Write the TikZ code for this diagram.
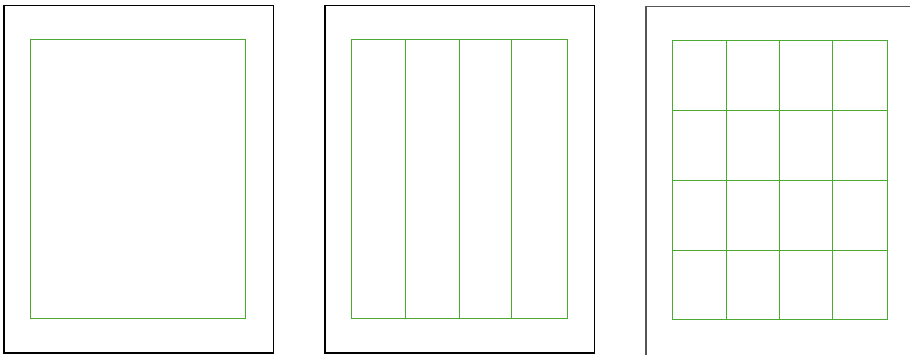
\documentclass[tikz,border=0pt]{standalone}
\begin{document}
\begin{tikzpicture}[x=1pt,y=-1pt,
  page/.style={draw=black,line width=1.1pt},
  gridline/.style={draw={rgb,255:red,76;green,168;blue,48},line width=1pt}]
\useasboundingbox (0,0) rectangle (910,354);
\clip (0,0) rectangle (910,354);
% page 1
\draw[page] (4,5.5) rectangle (273.5,353);
\draw[gridline] (30,39) rectangle (245.5,318);
% page 2
\draw[page] (325,5.5) rectangle (594.5,353);
\draw[gridline] (351,39) rectangle (567,318);
\foreach \x in {405,459,511} \draw[gridline] (\x,39) -- (\x,318);
% page 3 (cut off)
\draw[page,draw={rgb,255:red,85;green,85;blue,85}] (646,370) -- (646,6.5) -- (930,6.5);
\draw[gridline] (672,40.5) rectangle (887.5,319);
\foreach \x in {726,779.5,832} \draw[gridline] (\x,40.5) -- (\x,319);
\foreach \y in {110.5,180.5,250} \draw[gridline] (672,\y) -- (887.5,\y);
\end{tikzpicture}
\end{document}
